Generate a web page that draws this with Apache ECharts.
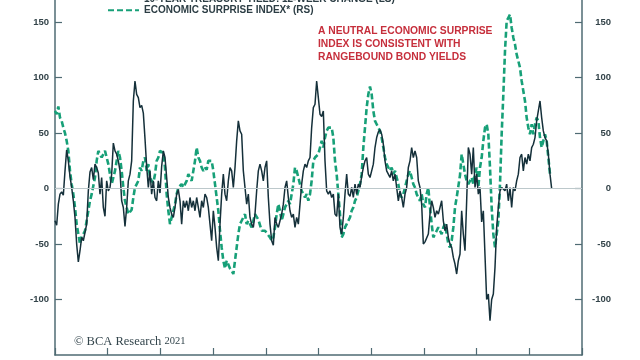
<!DOCTYPE html>
<html>
<head>
<meta charset="utf-8">
<script src="https://cdn.jsdelivr.net/npm/echarts/dist/echarts.min.js"></script>
<style>
html,body{margin:0;padding:0;background:#fff;}
#chart{width:640px;height:360px;}
</style>
</head>
<body>
<div id="chart"></div>
<script>
// ---- data ----
const startYear = 2002;          // first sample
const stepYears = 0.063251;      // spacing between samples (years)
const xMin = 2002, xMax = 2022, xInterval = 2;

// 10-year Treasury yield, 12-week change (bps) — left scale
const treasury = [
-29,-33,-14,-5,-3,-6,16,35,25,11,1,-11,-26,-50,-66,-56,-44,-47,-48,-32,-2,15,19,8,22,19,14,-5,10,-17,-25,7,-2,1,13,41,34,31,25,16,-11,-17,-34,-17,7,13,25,79,97,85,82,73,75,68,45,20,1,16,-5,7,-8,-11,7,-4,
20,34,28,10,-8,-17,-23,-26,-17,-5,-1,-11,-32,-11,-17,-11,-20,-8,-17,-11,-20,-8,-17,-26,-11,-17,-5,-8,-17,-32,-47,-20,-35,-53,-65,-32,-5,13,-5,-11,7,19,16,1,19,43,61,52,49,16,1,-14,-5,-26,-32,-35,-23,-2,16,22,
16,7,19,25,-8,-32,-47,-51,-26,-32,-35,-29,-23,-14,1,7,-8,-20,-26,-23,-35,-26,-32,-14,4,16,22,19,25,28,55,73,76,97,82,67,65,70,25,-2,-5,-2,-8,-5,-23,-25,-5,-35,-41,-26,-5,13,-5,-7,1,-8,4,-5,4,1,
11,19,25,28,13,10,16,22,37,46,51,53,49,40,25,16,13,10,16,7,13,1,-11,-2,-8,-17,-5,1,19,25,37,28,34,28,7,1,-14,-50,-48,-47,-41,-23,-11,-17,-26,-20,-23,-17,-11,-29,-38,-32,-44,-50,-53,-62,-68,-77,-65,-59,
-20,-41,-56,-11,37,31,13,37,1,13,-5,1,-30,-20,-60,-100,-95,-119,-100,-95,-71,-35,-17,-2,1,1,-2,4,-11,1,-17,1,-2,7,13,28,31,16,28,22,31,25,37,40,46,61,70,79,64,52,46,43,31,13,0
];

// Economic surprise index — right scale
const surprise = [
70,67,74,64,61,55,50,43,34,16,4,-5,-17,-32,-41,-50,-43,-41,-38,-29,-20,-11,-5,-5,10,25,34,31,28,31,34,35,22,13,4,10,16,25,34,28,16,1,-11,-17,-23,-22,-19,-8,1,2,7,19,16,25,28,16,22,10,7,5,13,25,28,34,
34,32,19,-5,-20,-32,-26,-20,-14,-5,1,2,4,1,4,7,13,10,7,16,25,37,28,25,19,16,19,17,25,25,25,16,4,-8,-20,-38,-53,-65,-72,-65,-65,-72,-74,-77,-65,-53,-41,-32,-29,-26,-23,-32,-29,-32,-35,-29,-23,-23,-28,-33,
-38,-38,-38,-40,-41,-44,-47,-44,-35,-23,-14,-20,-29,-23,-17,-17,-11,-14,-5,4,19,16,10,4,-2,-5,-8,-5,-11,-5,7,25,28,29,31,37,43,37,46,52,55,56,55,46,25,13,-5,-23,-44,-41,-35,-32,-29,-26,-20,-17,-11,-8,-2,4,
13,37,55,73,85,92,85,70,61,58,55,52,46,37,28,22,19,16,19,13,16,10,4,-5,-8,-5,1,7,13,16,10,4,1,-5,-8,-11,-5,-14,-17,-5,1,-17,-32,-44,-41,-38,-35,-38,-41,-35,-32,-41,-50,-53,-47,-35,-17,-8,2,12,
31,22,13,7,4,7,10,4,13,19,1,19,28,43,55,58,49,19,-17,-41,-53,-41,-29,4,49,85,124,151,154,157,145,136,130,121,115,109,97,88,79,64,55,49,58,49,58,64,61,46,37,43,49,43,28,13,13
];

const yMin = -150, yMax = 170;
const yTickValues = [-100, -50, 0, 50, 100, 150];
const seriesNames = ['10-YEAR TREASURY YIELD: 12-WEEK CHANGE (LS)', 'ECONOMIC SURPRISE INDEX* (RS)'];
const noteText = ['A NEUTRAL ECONOMIC SURPRISE', 'INDEX IS CONSISTENT WITH', 'RANGEBOUND BOND YIELDS'];
const sourceText = ['© BCA Research', '2021'];

// ---- build ----
const toPairs = arr => arr.map((v, i) => [startYear + i * stepYears, v]);
const axisColor = '#4f6b73';
const labelColor = '#34444a';

const yAxisCommon = {
  type: 'value', min: yMin, max: yMax,
  axisLine: { show: true, lineStyle: { color: axisColor, width: 1.5 } },
  axisTick: { show: true, inside: true, length: 7, lineStyle: { color: axisColor, width: 1.2 }, customValues: yTickValues },
  axisLabel: { customValues: yTickValues, color: labelColor, fontFamily: 'Liberation Sans, Arial, sans-serif', fontWeight: 'bold', fontSize: 9.5 },
  splitLine: { show: false }
};

const chart = echarts.init(document.getElementById('chart'), null, { renderer: 'canvas' });
chart.setOption({
  animation: false,
  backgroundColor: '#ffffff',
  grid: { left: 55, right: 58, top: 0, bottom: 5, containLabel: false },
  legend: {
    orient: 'vertical', left: 107, top: -6.5, padding: 0, itemWidth: 31, itemHeight: 8, itemGap: 0.3,
    itemStyle: { opacity: 0 },
    textStyle: { color: '#2c3d44', fontFamily: 'Liberation Sans, Arial, sans-serif', fontWeight: 'bold', fontSize: 10, lineHeight: 11 },
    data: seriesNames
  },
  xAxis: {
    type: 'value', min: xMin, max: xMax, interval: xInterval,
    axisLine: { show: true, onZero: false, lineStyle: { color: axisColor, width: 1.5 } },
    axisTick: { show: true, inside: true, length: 7, lineStyle: { color: axisColor, width: 1.2 } },
    axisLabel: { show: false },
    splitLine: { show: false }
  },
  yAxis: [
    Object.assign({}, yAxisCommon, { position: 'left', axisLabel: Object.assign({}, yAxisCommon.axisLabel, { margin: 6 }) }),
    Object.assign({}, yAxisCommon, { position: 'right', axisLabel: Object.assign({}, yAxisCommon.axisLabel, { margin: 29, align: 'right' }) })
  ],
  series: [
    {
      name: seriesNames[1], type: 'line', yAxisIndex: 1, data: toPairs(surprise),
      symbol: 'none', smooth: false, z: 2,
      lineStyle: { color: '#17a078', width: 2.6, type: [6, 3] },
      itemStyle: { color: '#17a078' },
      markLine: {
        silent: true, symbol: 'none', label: { show: false },
        lineStyle: { color: '#bcc8cb', width: 1, type: 'solid' },
        data: [{ yAxis: 0 }]
      }
    },
    {
      name: seriesNames[0], type: 'line', yAxisIndex: 0, data: toPairs(treasury),
      symbol: 'none', smooth: false, z: 3,
      lineStyle: { color: '#15303a', width: 1.5 },
      itemStyle: { color: '#15303a' }
    }
  ],
  graphic: [
    {
      type: 'text', left: 318, top: 25,
      style: { text: noteText.join('\n'), fill: '#c62f3c', font: 'bold 10.3px "Liberation Sans", Arial, sans-serif', lineHeight: 12.8 }
    },
    {
      type: 'text', left: 74, top: 335,
      style: {
        text: '{a|' + sourceText[0] + '} {b|' + sourceText[1] + '}',
        rich: {
          a: { fill: '#33454c', fontFamily: '"Liberation Serif", "DejaVu Serif", serif', fontSize: 12.5 },
          b: { fill: '#33454c', fontFamily: '"Liberation Serif", "DejaVu Serif", serif', fontSize: 10.5 }
        }
      }
    }
  ]
});
</script>
</body>
</html>
